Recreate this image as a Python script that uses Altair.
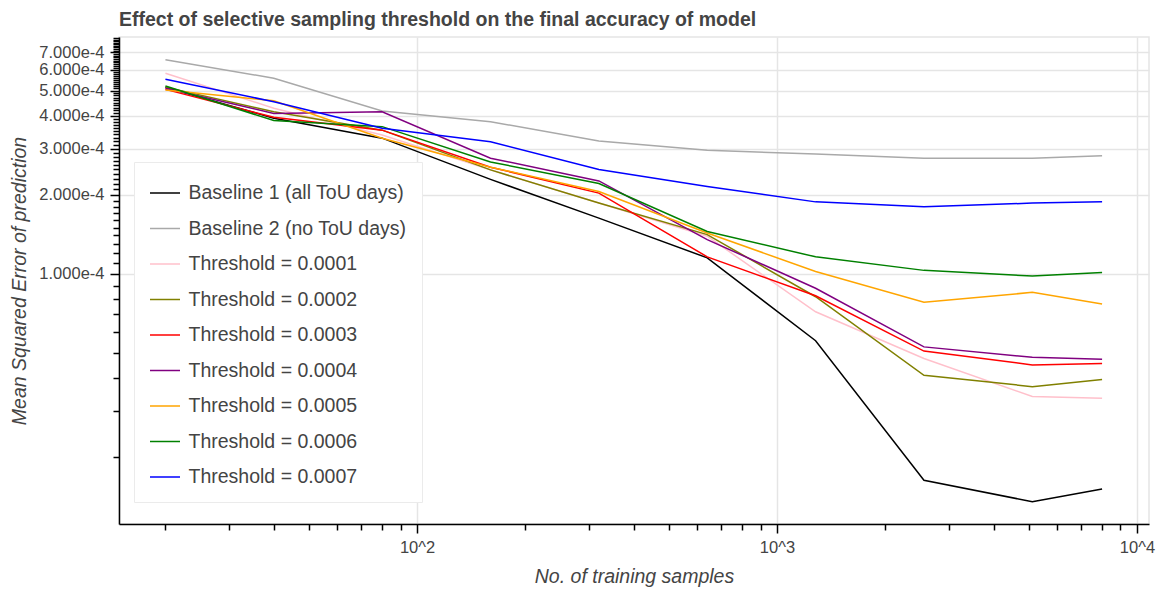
import altair as alt
import pandas as pd

# Training-set sizes (x) and mean squared error per configuration (y)
samples = [20, 40, 80, 160, 320, 640, 1280, 2560, 5120, 8000]

baseline_all = [5.14e-4, 3.92e-4, 3.29e-4, 2.29e-4, 1.63e-4, 1.15e-4, 5.55e-5, 1.63e-5, 1.35e-5, 1.51e-5]
baseline_none = [6.55e-4, 5.57e-4, 4.18e-4, 3.80e-4, 3.21e-4, 2.96e-4, 2.86e-4, 2.76e-4, 2.76e-4, 2.82e-4]
thr_0001 = [5.82e-4, 4.28e-4, 3.38e-4, 2.49e-4, 1.86e-4, 1.39e-4, 7.16e-5, 4.75e-5, 3.40e-5, 3.35e-5]
thr_0002 = [5.15e-4, 4.15e-4, 3.53e-4, 2.49e-4, 1.86e-4, 1.41e-4, 8.17e-5, 4.10e-5, 3.71e-5, 3.95e-5]
thr_0003 = [5.05e-4, 3.95e-4, 3.53e-4, 2.55e-4, 2.03e-4, 1.16e-4, 8.24e-5, 5.07e-5, 4.49e-5, 4.55e-5]
thr_0004 = [5.10e-4, 4.09e-4, 4.15e-4, 2.76e-4, 2.26e-4, 1.35e-4, 8.80e-5, 5.26e-5, 4.80e-5, 4.72e-5]
thr_0005 = [5.02e-4, 4.57e-4, 3.29e-4, 2.55e-4, 2.06e-4, 1.43e-4, 1.02e-4, 7.78e-5, 8.49e-5, 7.66e-5]
thr_0006 = [5.20e-4, 3.84e-4, 3.64e-4, 2.67e-4, 2.21e-4, 1.45e-4, 1.16e-4, 1.03e-4, 0.98e-4, 1.01e-4]
thr_0007 = [5.52e-4, 4.53e-4, 3.59e-4, 3.19e-4, 2.50e-4, 2.15e-4, 1.88e-4, 1.80e-4, 1.86e-4, 1.88e-4]

series_names = [
    "Baseline 1 (all ToU days)",
    "Baseline 2 (no ToU days)",
    "Threshold = 0.0001",
    "Threshold = 0.0002",
    "Threshold = 0.0003",
    "Threshold = 0.0004",
    "Threshold = 0.0005",
    "Threshold = 0.0006",
    "Threshold = 0.0007",
]
series_values = [baseline_all, baseline_none, thr_0001, thr_0002, thr_0003,
                 thr_0004, thr_0005, thr_0006, thr_0007]
series_colors = ["#000000", "#a9a9a9", "#ffc0cb", "#808000", "#ff0000",
                 "#800080", "#ffa500", "#008000", "#0000ff"]

# Tick positions: decades on x, 1e-5 steps on y (labels only on 1e-4 multiples)
x_ticks = [m * 10 ** e for e in (1, 2, 3) for m in range(1, 10) if m * 10 ** e >= 20] + [10000]
y_ticks = [round(k * 1e-5, 12) for k in range(2, 80)]

rows = []
for name, vals in zip(series_names, series_values):
    for i, (s, v) in enumerate(zip(samples, vals)):
        rows.append({"series": name, "samples": s, "mse": v, "order": i})
df = pd.DataFrame(rows)

FONT = "Liberation Sans"
TEXT = "#444444"

x_major = "indexof([100, 1000, 10000], datum.value) >= 0"
y_major = "abs(datum.value * 1e4 - round(datum.value * 1e4)) < 1e-6"

x_axis = alt.Axis(
    values=x_ticks,
    labelExpr="datum.value == 100 ? '10^2' : datum.value == 1000 ? '10^3' : datum.value == 10000 ? '10^4' : ''",
    labelOverlap=False, labelFlush=False,
    labelFont=FONT, labelFontSize=16.5, labelColor=TEXT, labelPadding=6,
    tickSize={"condition": {"test": x_major, "value": 9}, "value": 6},
    tickColor="black", tickWidth=1.5,
    domainColor="black", domainWidth=1.5,
    grid=True, gridColor="#e5e5e5", gridWidth=1.5,
    gridOpacity={"condition": {"test": x_major, "value": 1}, "value": 0},
    title="No. of training samples",
    titleFont=FONT, titleFontSize=19.5, titleFontStyle="italic",
    titleFontWeight="normal", titleColor=TEXT,
    titleBaseline="alphabetic", titleY=58,
)

y_axis = alt.Axis(
    values=y_ticks,
    labelExpr=f"({y_major}) ? format(datum.value, '.3e') : ''",
    labelOverlap=False, labelFlush=False,
    labelFont=FONT, labelFontSize=16.5, labelColor=TEXT, labelPadding=6,
    tickSize={"condition": {"test": y_major, "value": 9}, "value": 6},
    tickColor="black", tickWidth=1.5,
    domainColor="black", domainWidth=1.5,
    grid=True, gridColor="#e5e5e5", gridWidth=1.5,
    gridOpacity={"condition": {"test": y_major, "value": 1}, "value": 0},
    title="Mean Squared Error of prediction",
    titleFont=FONT, titleFontSize=19.5, titleFontStyle="italic",
    titleFontWeight="normal", titleColor=TEXT,
    titleBaseline="alphabetic", titleX=-94, titleAngle=270,
)

legend = alt.Legend(
    orient="none", legendX=15, legendY=125, title=None,
    symbolType="stroke", symbolSize=900, symbolStrokeWidth=1.5,
    labelFont=FONT, labelFontSize=19.5, labelColor=TEXT, labelOffset=7.5,
    labelLimit=400, rowPadding=9.5, padding=15,
    fillColor="white", strokeColor="#ebebeb",
)

chart = alt.Chart(df).mark_line(strokeWidth=1.5).encode(
    x=alt.X("samples:Q", scale=alt.Scale(type="log", domain=[14.86, 10800], nice=False), axis=x_axis),
    y=alt.Y("mse:Q", scale=alt.Scale(type="log", domain=[1.11e-5, 8.0e-4], nice=False), axis=y_axis),
    color=alt.Color("series:N", scale=alt.Scale(domain=series_names, range=series_colors),
                    sort=series_names, legend=legend),
    order="order:Q",
).properties(
    width=1030, height=487,
    autosize="none",
    padding={"left": 119, "top": 37, "right": 13, "bottom": 66},
    title=alt.Title(
        "Effect of selective sampling threshold on the final accuracy of model",
        anchor="start", frame="group", offset=0,
        font=FONT, fontSize=19.5, fontWeight="bold", color=TEXT,
    ),
).configure_view(stroke="#e5e5e5", strokeWidth=1.5)

chart.save("out.html", embed_options={"renderer": "svg", "actions": False})
